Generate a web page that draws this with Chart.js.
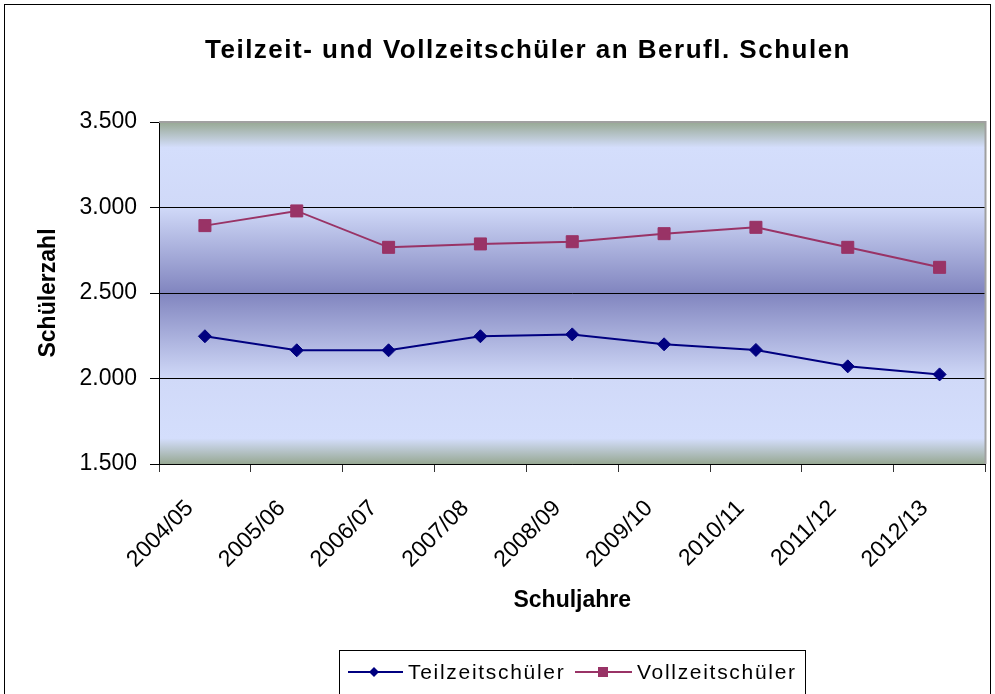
<!DOCTYPE html>
<html>
<head>
<meta charset="utf-8">
<script src="https://cdn.jsdelivr.net/npm/chart.js@4"></script>
<style>
  html, body { margin: 0; padding: 0; background: #fff; }
  #wrap { width: 995px; height: 694px; position: relative; overflow: hidden; }
</style>
</head>
<body>
<div id="wrap"><canvas id="c" width="995" height="694"></canvas></div>
<script>
// ---- data ----
const categories = ['2004/05', '2005/06', '2006/07', '2007/08', '2008/09', '2009/10', '2010/11', '2011/12', '2012/13'];
const teilzeit = [2247, 2165, 2165, 2247, 2258, 2200, 2167, 2071, 2024];
const vollzeit = [2894, 2980, 2767, 2787, 2800, 2847, 2884, 2767, 2650];
const seriesNames = ['Teilzeitschüler', 'Vollzeitschüler'];
const titleText = 'Teilzeit- und Vollzeitschüler an Berufl. Schulen';
const yTitle = 'Schülerzahl';
const xTitle = 'Schuljahre';
const yMin = 1500, yMax = 3500, yStep = 500;

const FONT = "'Liberation Sans', Arial, sans-serif";
const C_TEIL = '#000080';
const C_VOLL = '#993366';

function fmt(v) {
  const s = String(Math.round(v));
  return s.replace(/\B(?=(\d{3})+(?!\d))/g, '.');
}

const decor = {
  id: 'decor',
  beforeDraw(chart) {
    const { ctx, chartArea: a } = chart;
    const g = ctx.createLinearGradient(0, a.top, 0, a.bottom);
    g.addColorStop(0.0, '#97a893');
    g.addColorStop(0.075, '#d4defc');
    g.addColorStop(0.25, '#d0d9f8');
    g.addColorStop(0.5, '#8185bf');
    g.addColorStop(0.75, '#d0d9f8');
    g.addColorStop(0.925, '#d4defc');
    g.addColorStop(1.0, '#97a893');
    ctx.save();
    ctx.fillStyle = g;
    ctx.fillRect(a.left, a.top, a.right - a.left, a.bottom - a.top);
    ctx.restore();
  },
  beforeDatasetsDraw(chart) {
    const { ctx, chartArea: a } = chart;
    ctx.save();
    ctx.strokeStyle = '#a0a0a0';
    ctx.lineWidth = 2;
    ctx.beginPath();
    ctx.moveTo(a.left, a.top);
    ctx.lineTo(a.right, a.top);
    ctx.lineTo(a.right, a.bottom);
    ctx.stroke();
    ctx.restore();
  },
  afterDraw(chart) {
    const { ctx } = chart;
    ctx.save();
    // outer frame
    ctx.strokeStyle = '#000';
    ctx.lineWidth = 1;
    ctx.strokeRect(4.5, 4.5, 986, 720);
    // title
    ctx.fillStyle = '#000';
    ctx.font = 'bold 26px ' + FONT;
    ctx.textAlign = 'center';
    ctx.textBaseline = 'alphabetic';
    try { ctx.letterSpacing = '1.5px'; } catch (e) {}
    ctx.fillText(titleText, 528, 58);
    // legend box
    try { ctx.letterSpacing = '0px'; } catch (e) {}
    ctx.strokeRect(339.5, 650.5, 466, 80);
    const ly = 672;
    // series 1
    ctx.strokeStyle = C_TEIL; ctx.lineWidth = 2;
    ctx.beginPath(); ctx.moveTo(348, ly); ctx.lineTo(403, ly); ctx.stroke();
    ctx.fillStyle = C_TEIL;
    ctx.beginPath(); ctx.moveTo(374 - 5, ly); ctx.lineTo(374, ly - 5); ctx.lineTo(374 + 5, ly); ctx.lineTo(374, ly + 5); ctx.closePath(); ctx.fill();
    // series 2
    ctx.strokeStyle = C_VOLL;
    ctx.beginPath(); ctx.moveTo(575, ly); ctx.lineTo(632, ly); ctx.stroke();
    ctx.fillStyle = C_VOLL;
    ctx.fillRect(603 - 5, ly - 5, 10, 10);
    // legend text
    ctx.fillStyle = '#000';
    ctx.font = '21px ' + FONT;
    ctx.textAlign = 'left';
    try { ctx.letterSpacing = '1.7px'; } catch (e) {}
    ctx.fillText(seriesNames[0], 408, 679);
    ctx.fillText(seriesNames[1], 637, 679);
    try { ctx.letterSpacing = '0px'; } catch (e) {}
    ctx.restore();
  }
};

new Chart(document.getElementById('c'), {
  type: 'line',
  data: {
    labels: categories,
    datasets: [
      {
        label: seriesNames[0],
        data: teilzeit,
        borderColor: C_TEIL,
        backgroundColor: C_TEIL,
        borderWidth: 2,
        pointStyle: 'rectRot',
        pointRadius: 6.5,
        pointBorderWidth: 1,
        pointHoverRadius: 6.5,
        tension: 0,
        fill: false
      },
      {
        label: seriesNames[1],
        data: vollzeit,
        borderColor: C_VOLL,
        backgroundColor: C_VOLL,
        borderWidth: 2,
        pointStyle: 'rect',
        pointRadius: 8.5,
        pointBorderWidth: 1,
        pointHoverRadius: 8.5,
        tension: 0,
        fill: false
      }
    ]
  },
  options: {
    responsive: false,
    animation: false,
    devicePixelRatio: 1,
    layout: { padding: { top: 122, left: 35, right: 8, bottom: 80 } },
    plugins: {
      legend: { display: false },
      title: { display: false },
      tooltip: { enabled: false }
    },
    scales: {
      x: {
        type: 'category',
        offset: true,
        grid: {
          offset: true,
          drawOnChartArea: false,
          drawTicks: true,
          tickLength: 8,
          tickColor: '#333',
          color: '#333'
        },
        border: { display: true, color: '#000', width: 1 },
        ticks: {
          color: '#000',
          font: { family: FONT, size: 23 },
          minRotation: 45,
          maxRotation: 45,
          autoSkip: false,
          padding: 23,
          labelOffset: -15
        },
        title: {
          display: true,
          text: xTitle,
          color: '#000',
          font: { family: FONT, size: 23, weight: 'bold' },
          padding: { top: 0, bottom: 0 }
        },
        afterFit(scale) { scale.height = 150; }
      },
      y: {
        min: yMin,
        max: yMax,
        grid: {
          drawTicks: true,
          tickLength: 9,
          tickColor: '#000',
          color: (ctx) => (ctx.tick && ctx.tick.value === yMax) ? 'rgba(0,0,0,0)' : '#000',
          lineWidth: 1
        },
        border: { display: true, color: '#000', width: 1 },
        ticks: {
          stepSize: yStep,
          color: '#000',
          font: { family: FONT, size: 23 },
          padding: 13,
          callback: (v) => fmt(v)
        },
        title: {
          display: true,
          text: yTitle,
          color: '#000',
          font: { family: FONT, size: 23, weight: 'bold' },
          padding: { top: 0, bottom: 0 }
        },
        afterFit(scale) { scale.width = 124; }
      }
    }
  },
  plugins: [decor]
});
</script>
</body>
</html>
